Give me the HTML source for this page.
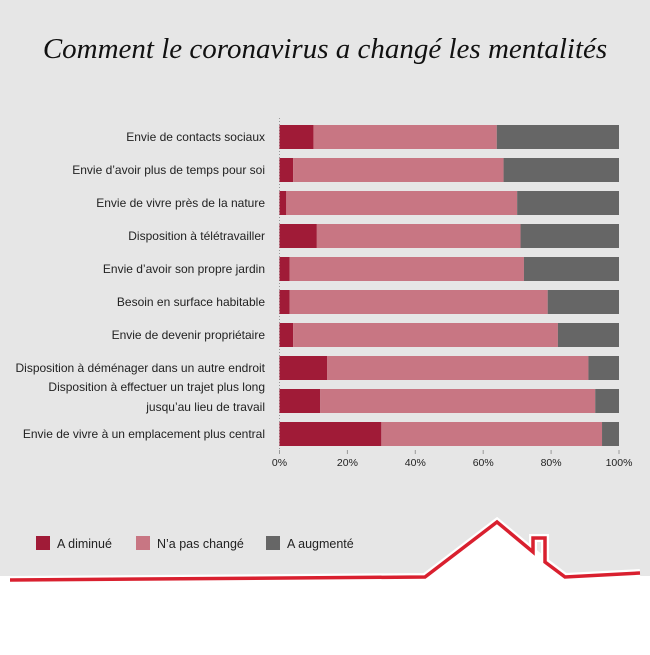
<!DOCTYPE html>
<html><head><meta charset="utf-8"><style>
body{margin:0;width:650px;height:650px;overflow:hidden;background:#fff;font-family:"Liberation Sans",sans-serif}
</style></head><body>
<svg width="650" height="650">
<rect x="0" y="0" width="650" height="576" fill="#e6e6e6"/>
<text x="325" y="58" text-anchor="middle" font-family="Liberation Serif" font-style="italic" font-size="29" fill="#111">Comment le coronavirus a changé les mentalités</text>
<g id="plot"></g>
<g id="legend">
<rect x="36" y="536" width="14" height="14" fill="#a01b37"/>
<text x="57" y="548" font-size="12.5" fill="#222">A diminué</text>
<rect x="136" y="536" width="14" height="14" fill="#c87683"/>
<text x="157" y="548" font-size="12.5" fill="#222">N’a pas changé</text>
<rect x="266" y="536" width="14" height="14" fill="#666"/>
<text x="287" y="548" font-size="12.5" fill="#222">A augmenté</text>
</g>
<g>
<polygon points="420,576 497,519 570,576" fill="#fff"/>
<polyline points="10,580 425,577 497,522 533,552 533,538 545,538 545,562 565,577 640,573" fill="none" stroke="#fff" stroke-width="8" stroke-linejoin="miter"/>
<polyline points="10,580 425,577 497,522 533,552 533,538 545,538 545,562 565,577 640,573" fill="none" stroke="#d9202f" stroke-width="3.5" stroke-linejoin="miter"/>
</g>
</svg>
<script>
const categories=["Envie de contacts sociaux","Envie d’avoir plus de temps pour soi","Envie de vivre près de la nature","Disposition à télétravailler","Envie d’avoir son propre jardin","Besoin en surface habitable","Envie de devenir propriétaire","Disposition à déménager dans un autre endroit","Disposition à effectuer un trajet plus long|jusqu’au lieu de travail","Envie de vivre à un emplacement plus central"];
const diminue=[10,4,2,11,3,3,4,14,12,30];
const inchange=[54,62,68,60,69,76,78,77,81,65];
const augmente=[36,34,30,29,28,21,18,9,7,5];
const ticks=[0,20,40,60,80,100];
const tickLabels=["0%","20%","40%","60%","80%","100%"];
const NS="http://www.w3.org/2000/svg";
const g=document.getElementById('plot');
const x=v=>279.5+v*3.395;
const y=i=>125+i*33;
const bh=24;
function mk(t,a){const e=document.createElementNS(NS,t);for(const k in a)e.setAttribute(k,a[k]);g.appendChild(e);return e;}
const ax=mk('line',{x1:x(0),x2:x(0),y1:118,y2:452,stroke:'#999','stroke-dasharray':'1,2'});


const series=[[diminue,'#a01b37','diminue'],[inchange,'#c87683','inchange'],[augmente,'#666','augmente']];
categories.forEach((c,i)=>{
  let acc=0;
  series.forEach(([arr,col,nm])=>{
    const r=mk('rect',{x:x(acc),y:y(i),width:x(acc+arr[i])-x(acc),height:bh,fill:col});
    
    
    acc+=arr[i];
  });
  const parts=c.split('|');
  const t=mk('text',{x:265,'text-anchor':'end','font-size':'12',fill:'#222'});
  
  
  parts.forEach((p,j)=>{
    const s=document.createElementNS(NS,'tspan');
    s.setAttribute('x',265);
    s.setAttribute('y',parts.length>1? y(i)+bh/2-4+j*20-6 : y(i)+bh/2+4);
    s.textContent=p;t.appendChild(s);
  });
});
ticks.forEach((v,i)=>{
  const t=mk('text',{x:x(v),y:466,'text-anchor':'middle','font-size':'10.5',fill:'#222'});
  t.textContent=tickLabels[i];
  
  
  const l=mk('line',{x1:x(v),x2:x(v),y1:450,y2:454,stroke:'#999'});
  
  
});
</script>
</body></html>
